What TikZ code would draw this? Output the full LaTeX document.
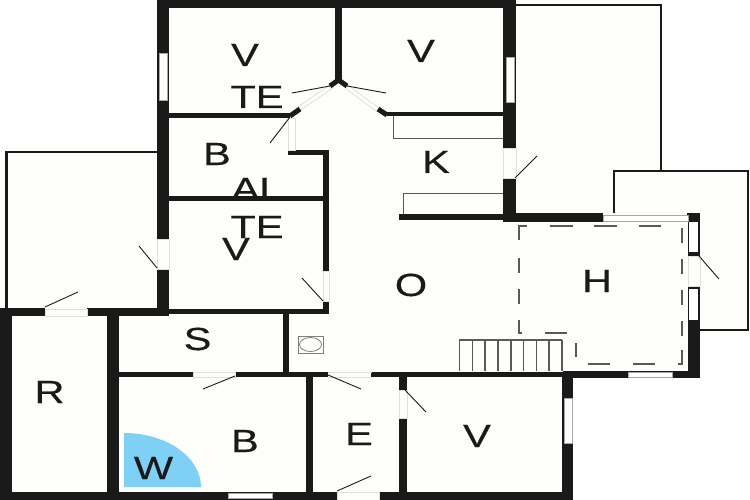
\documentclass[tikz,border=0pt]{standalone}
\usepackage{fontspec}
\newfontfamily\planfont[FakeStretch=1.3,FakeBold=0.35]{Liberation Sans}
\definecolor{wallcol}{HTML}{1A1A1A}
\definecolor{floorcol}{HTML}{FEFEFA}
\definecolor{wetcol}{HTML}{7FD0F5}
\tikzset{
	wall/.style={fill=wallcol},
	pane/.style={draw=gray!70, fill=white, line width=0.6pt},
	gap/.style={draw=gray!25, line width=0.6pt},
	gapdiag/.style={draw=gray!45, line width=0.5pt, double=floorcol, double distance=3.5pt},
	stub/.style={wallcol, line width=5pt},
	leaf/.style={wallcol, line width=0.9pt},
	thinwall/.style={wallcol, line width=2.6pt},
	fitting/.style={draw=black!65, line width=1pt},
	hatchline/.style={black!65, line width=1.6pt},
	lbl/.style={font=\planfont\fontsize{32}{32}\selectfont, text=wallcol, anchor=base, inner sep=0pt}
}
\begin{document}
\begin{tikzpicture}[x=1pt, y=-1pt]
	\useasboundingbox (0,0) rectangle (750,500);
	\fill[floorcol] (6,152) -- (157,152) -- (157,0) -- (516,0) -- (516,5) -- (661,5) -- (661,170) -- (749,170) -- (749,330) -- (700,330) -- (700,378) -- (573,378) -- (573,500) -- (0,500) -- (0,308) -- (6,308) -- cycle;
	\fill[wetcol] (124,487) -- (124,433) arc[start angle=90, end angle=0, x radius=77, y radius=-54] -- cycle;
	
	\node[lbl] (vtl) at (245,66) {V};
	\node[lbl] (vtr) at (421,62) {V};
	\node[lbl] (teu) at (257,108) {TE};
	\node[lbl] (bu) at (217,165) {B};
	\node[lbl] (al) at (257,200) {AL};
	\node[lbl] (tel) at (257,238) {TE};
	\node[lbl] (vm) at (236,260) {V};
	\node[lbl] (k) at (436,173) {K};
	\node[lbl] (o) at (411,296) {O};
	\node[lbl] (h) at (597,292) {H};
	\node[lbl] (s) at (197.5,350) {S};
	\node[lbl] (r) at (49.5,403) {R};
	\node[lbl] (bl) at (245,452) {B};
	\node[lbl] (w) at (153.5,479) {W};
	\node[lbl] (e) at (359,445) {E};
	\node[lbl] (vb) at (477,447) {V};
	
	\foreach \xa/\ya/\xb/\yb in {157/0/516/8, 157/0/169/239, 157/269/169/315, 335/8/342/82, 503/0/516/148, 503/178/516/222,
		399/214/503/220, 503/213/603/222, 687/213/700/222, 688/222/700/256, 688/286/700/378, 563/371/700/378, 283/372/328/377,
		371/372/563/377, 562/372/573/500, 283/313/289/372, 306/372/313/500, 399/372/407/390, 399/418/407/500,
		0/492/337/500, 379/492/573/500, 0/308/12/500, 0/308/45/316, 87/308/169/316, 107/308/119/500, 169/309/329/314,
		119/372/193/377, 235/372/283/377, 169/113/290/118, 387/112/503/116, 288/150/329/155, 323/150/329/271,
		323/301/329/314, 169/196/323/201}
		\fill[wall] (\xa,\ya) rectangle (\xb,\yb);
	
	\foreach \xa/\ya/\xb/\yb in {159/53/167/100, 506/57/514/102, 603/215/688/221,
		628/372/672/377, 564/398/572/443, 228/493/272/498}
		\draw[pane] (\xa,\ya) rectangle (\xb,\yb);
	\foreach \ya/\yb in {222/252, 289/320}
		\fill[white] (689,\ya) rectangle (698,\yb);
	
	\foreach \xa/\ya/\xb/\yb in {45/309/87/316, 157/239/169/269, 323/271/329/301, 193/372/235/377, 328/372/371/372.1, 328/377/371/377.1,
		399/390/407/418, 337/492/379/500, 503/148/516/178, 688/256/700/286, 288/118/295/150}
		\draw[gap] (\xa,\ya) rectangle (\xb,\yb);
	\draw[gapdiag] (297,110) -- (332,86);
	\draw[gapdiag] (347,87) -- (378,110);
	
	\draw[stub] (290,116) -- (300,109);
	\draw[stub, miter limit=3] (330,86) -- (338.5,80) -- (347,86);
	\draw[stub] (378,109) -- (387,115);
	
	\foreach \xa/\ya/\xb/\yb in {203/389/235/376, 45/307/78/292, 157/268/139/246, 323/301/302/278, 328/375/361/389, 404/389/426/412,
		337/491/371/476, 515/178/537/156, 699/256/719/279, 330/86/292/93, 347/86/386/93, 290/117/270/143}
		\draw[leaf] (\xa,\ya) -- (\xb,\yb);
	
	\draw[thinwall] (516,5) -- (661,5) -- (661,171);
	\draw[thinwall] (614,213) -- (614,171) -- (748,171) -- (748,330) -- (700,330);
	\draw[thinwall] (157,152) -- (6.5,152) -- (6.5,308);
	
	\draw[fitting] (393,116) -- (393,139) -- (503,139);
	\draw[fitting] (403,214) -- (403,194) -- (503,194);
	\draw[draw=gray, line width=0.8pt] (298,336) rectangle (323,353);
	\draw[draw=gray, line width=0.8pt] (310.5,344.5) ellipse [x radius=11, y radius=7];
	
	\draw[hatchline] (459,340) -- (562,340);
	\foreach \xs in {459.5,472.3,485.1,497.9,510.7,523.5,536.3,549.1,561.9}
		\draw[hatchline] (\xs,340) -- (\xs,371);
	
	\draw[hatchline] (519,240) -- (519,226) -- (527,226);
	\foreach \xa/\xb in {550/573, 594/617, 639/661}
		\draw[hatchline] (\xa,226) -- (\xb,226);
	\foreach \ya/\yb in {228/243, 259/274, 290/305, 321/336}
		\draw[hatchline] (682,\ya) -- (682,\yb);
	\draw[hatchline] (682,350) -- (682,364) -- (678,364);
	\foreach \xa/\xb in {633/655, 588/610}
		\draw[hatchline] (\xa,364) -- (\xb,364);
	\draw[hatchline] (576,343) -- (576,357);
	\draw[hatchline] (545,333) -- (567,333);
	\draw[hatchline] (519,320) -- (519,333) -- (522,333);
	\foreach \ya/\yb in {258/273, 289/304}
		\draw[hatchline] (519,\ya) -- (519,\yb);
\end{tikzpicture}
\end{document}
